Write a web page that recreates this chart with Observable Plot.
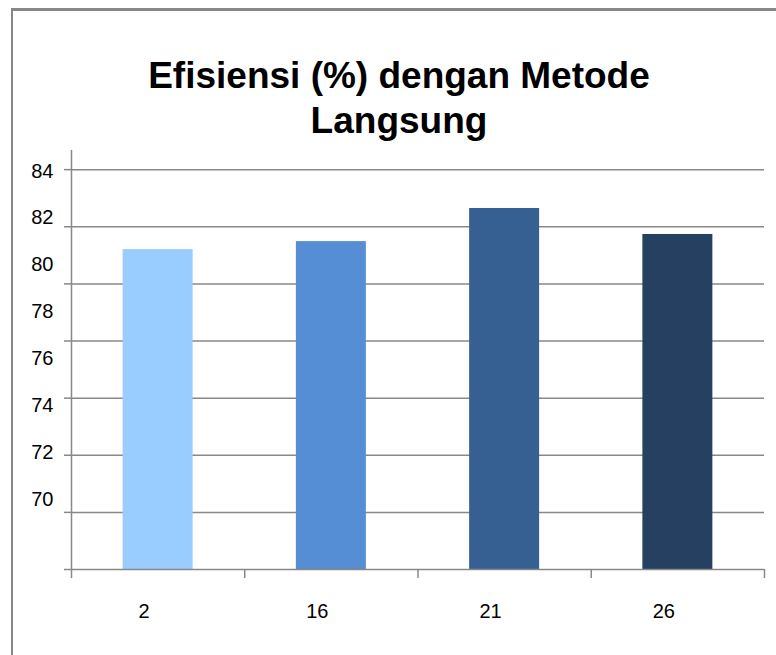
<!DOCTYPE html>
<html>
<head>
<meta charset="utf-8">
<script src="https://cdn.jsdelivr.net/npm/d3@7"></script>
<script src="https://cdn.jsdelivr.net/npm/@observablehq/plot@0.6"></script>
<style>
  html, body { margin: 0; padding: 0; background: #fff; overflow: hidden; }
  body { width: 776px; height: 655px; position: relative; font-family: "Liberation Sans", Arial, sans-serif; }
  #edgeTop { position: absolute; left: 11px; top: 8px; width: 765px; height: 3px; background: #878787; z-index: 10; }
  #edgeLeft { position: absolute; left: 11px; top: 8px; width: 2px; height: 647px; background: #878787; z-index: 10; }
  #title { width: 776px; height: 140px; box-sizing: border-box; padding-top: 53px; padding-left: 22px; text-align: center; font-weight: bold; font-size: 37px; line-height: 45px; color: #000; }
  #chart { width: 776px; overflow: hidden; }
  #chart svg { display: block; background: transparent; }
</style>
</head>
<body>
<div id="edgeTop"></div>
<div id="edgeLeft"></div>
<div id="title">Efisiensi (%) dengan Metode<br>Langsung</div>
<div id="chart"></div>
<script>
const categories = ["2", "16", "21", "26"];
const efficiency = [81.20, 81.48, 82.64, 81.73];
const barColors = ["#99CCFF", "#558ED5", "#376092", "#254061"];
const yTicks = [70, 72, 74, 76, 78, 80, 82, 84];
const yDomain = [70, 84.67];

// the reference's tick labels sit compressed toward the top, not on their gridlines
const labelSpread = 0.821;
const labelShift = -0.0525;
const barInset = 0.298;
const gridColor = "#888888";

const data = categories.map((c, i) => ({cat: c, i, value: efficiency[i], color: barColors[i]}));

const chart = Plot.plot({
  width: 776,
  height: 515,
  marginLeft: 71,
  marginRight: 12,
  marginTop: 10,
  marginBottom: 86,
  style: {fontFamily: "'Liberation Sans', Arial, sans-serif", background: "transparent", color: "#000"},
  x: {type: "linear", domain: [0, categories.length], axis: null},
  y: {domain: yDomain, axis: null},
  color: {type: "identity"},
  marks: [
    Plot.ruleY(yTicks.filter(v => v > yDomain[0]), {stroke: gridColor, strokeWidth: 1.5}),
    Plot.rect(data, {x1: d => d.i + barInset, x2: d => d.i + 1 - barInset, y1: yDomain[0], y2: "value", fill: "color"}),
    Plot.ruleY([yDomain[0]], {stroke: gridColor, strokeWidth: 1.5}),
    Plot.ruleX([0], {y1: yDomain[0], y2: yDomain[1], stroke: gridColor, strokeWidth: 1.5}),
    Plot.axisY({ticks: yTicks, tickSize: 7, tickFormat: () => "", label: null, stroke: gridColor, strokeWidth: 1.5}),
    Plot.axisX({ticks: d3.range(categories.length + 1), tickSize: 9, tickFormat: () => "", label: null, stroke: gridColor, strokeWidth: 1.5}),
    Plot.text(yTicks, {
      y: v => yTicks[yTicks.length - 1] + labelShift - labelSpread * (yTicks[yTicks.length - 1] - v),
      text: v => String(v),
      frameAnchor: "left",
      textAnchor: "end",
      dx: -18,
      fontSize: 20,
      fill: "#000"
    }),
    Plot.text(categories, {
      x: (d, i) => i + 0.5,
      text: d => d,
      frameAnchor: "bottom",
      dy: 48,
      dx: -14,
      fontSize: 20,
      fill: "#000"
    })
  ]
});
document.getElementById("chart").appendChild(chart);
</script>
</body>
</html>
